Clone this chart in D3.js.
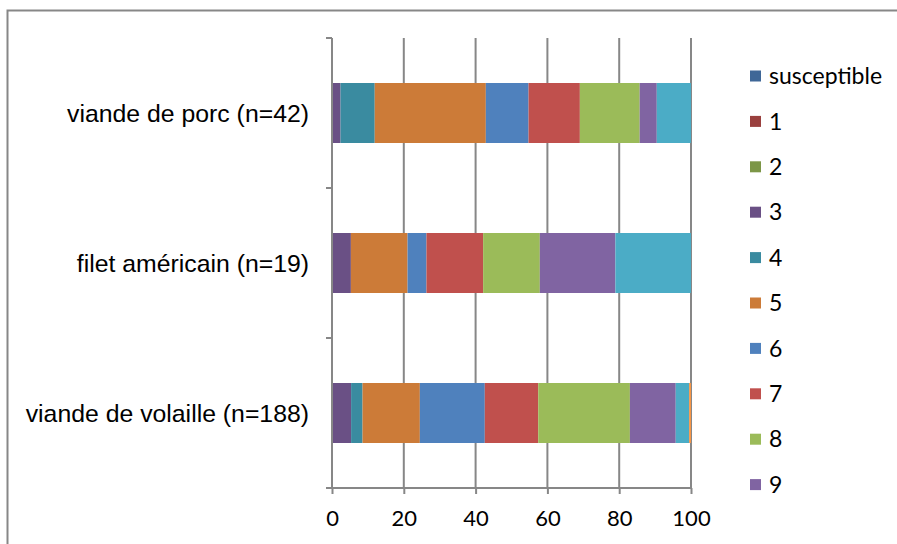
<!DOCTYPE html>
<html>
<head>
<meta charset="utf-8">
<script src="https://cdn.jsdelivr.net/npm/d3@7"></script>
<style>
  html, body { margin: 0; padding: 0; background: #fff; }
  svg { display: block; }
</style>
</head>
<body>
<svg id="chart" width="897" height="544"></svg>
<script>
// Categories (top to bottom) and resistance-profile series (percent of isolates)
const categories = ["viande de porc (n=42)", "filet américain (n=19)", "viande de volaille (n=188)"];
const seriesNames = ["susceptible", "1", "2", "3", "4", "5", "6", "7", "8", "9", "10", "11"];
const seriesColors = ["#3F6797", "#9A403E", "#7C9647", "#6A5085", "#3A8BA0", "#CC7B38",
                      "#4F81BD", "#C0504D", "#9BBB59", "#8064A2", "#4BACC6", "#F79646"];
const porcValues     = [0, 0, 0, 2.38, 9.52, 30.95, 11.90, 14.29, 16.67, 4.76, 9.52, 0];
const filetValues    = [0, 0, 0, 5.26, 0, 15.79, 5.26, 15.79, 15.79, 21.05, 21.05, 0];
const volailleValues = [0, 0, 0, 5.32, 3.19, 15.96, 18.09, 14.89, 25.53, 12.77, 3.72, 0.53];
const xTicks = [0, 20, 40, 60, 80, 100];
// Only the entries that fit in the legend box are listed
const legendCount = 10;

const valuesByCategory = [porcValues, filetValues, volailleValues];
const rows = categories.map((c, i) => {
  const r = { category: c };
  seriesNames.forEach((s, j) => { r[s] = valuesByCategory[i][j]; });
  return r;
});

const svg = d3.select("#chart");
const gridColor = "#878787";

// Outer chart frame (continues past the right and bottom edges)
svg.append("path")
  .attr("d", "M7.5,560 V10.5 H910")
  .attr("fill", "none")
  .attr("stroke", gridColor)
  .attr("stroke-width", 2);

const x = d3.scaleLinear().domain([0, 100]).range([332, 691]);
const y = d3.scaleBand().domain(categories).range([38, 488]).paddingInner(0.6).paddingOuter(0.3);

// Vertical gridlines
svg.append("g")
  .selectAll("line")
  .data(xTicks.filter(t => t > 0))
  .join("line")
  .attr("x1", d => x(d)).attr("x2", d => x(d))
  .attr("y1", 38).attr("y2", 488)
  .attr("stroke", gridColor).attr("stroke-width", 2);

// Stacked bars
const stack = d3.stack().keys(seriesNames)(rows);
const color = d3.scaleOrdinal().domain(seriesNames).range(seriesColors);

svg.append("g")
  .selectAll("g")
  .data(stack)
  .join("g")
  .attr("fill", d => color(d.key))
  .selectAll("rect")
  .data(d => d)
  .join("rect")
  .attr("x", d => x(d[0]))
  .attr("y", d => y(d.data.category))
  .attr("width", d => Math.max(0, x(d[1]) - x(d[0])))
  .attr("height", y.bandwidth());

// X axis along the bottom
const xAxis = svg.append("g")
  .attr("transform", "translate(0,488)")
  .call(d3.axisBottom(x).tickValues(xTicks).tickSize(6).tickPadding(16).tickSizeOuter(0));
xAxis.select(".domain").remove();
xAxis.append("line")
  .attr("x1", 326).attr("x2", x(100)).attr("y1", 0).attr("y2", 0)
  .attr("stroke", gridColor).attr("stroke-width", 2);
xAxis.selectAll(".tick line").attr("stroke", gridColor).attr("stroke-width", 2);
xAxis.selectAll(".tick text")
  .attr("fill", "#000")
  .style("font-family", "Lato, 'Open Sans', sans-serif")
  .style("font-size", "22px");

// Y axis at zero with boundary ticks between categories
const yAxis = svg.append("g").attr("transform", `translate(${x(0)},0)`);
yAxis.append("line")
  .attr("x1", 0).attr("x2", 0).attr("y1", 38).attr("y2", 488)
  .attr("stroke", gridColor).attr("stroke-width", 2);
const boundaries = [y.range()[0]].concat(categories.map(c => y(c) + y.bandwidth() + y.step() * 0.3));
yAxis.selectAll("line.bt")
  .data(boundaries)
  .join("line")
  .attr("class", "bt")
  .attr("x1", -6).attr("x2", 0)
  .attr("y1", d => d).attr("y2", d => d)
  .attr("stroke", gridColor).attr("stroke-width", 2);

// Category labels
svg.append("g")
  .selectAll("text")
  .data(categories)
  .join("text")
  .attr("x", 309)
  .attr("y", d => y(d) + y.bandwidth() / 2)
  .attr("dy", "0.35em")
  .attr("text-anchor", "end")
  .attr("fill", "#000")
  .style("font-family", "'Liberation Sans', Arial, sans-serif")
  .style("font-size", "24.8px")
  .text(d => d);

// Legend
const legend = svg.append("g")
  .selectAll("g")
  .data(seriesNames.slice(0, legendCount))
  .join("g")
  .attr("transform", (d, i) => `translate(750,${76 + i * 45.4})`);
legend.append("rect")
  .attr("x", 0).attr("y", -5.5)
  .attr("width", 11).attr("height", 11)
  .attr("fill", d => color(d));
legend.append("text")
  .attr("x", 19).attr("y", 0).attr("dy", "0.36em")
  .attr("fill", "#000")
  .style("font-family", "Lato, 'Open Sans', sans-serif")
  .style("font-size", "23px")
  .text(d => d);
</script>
</body>
</html>
